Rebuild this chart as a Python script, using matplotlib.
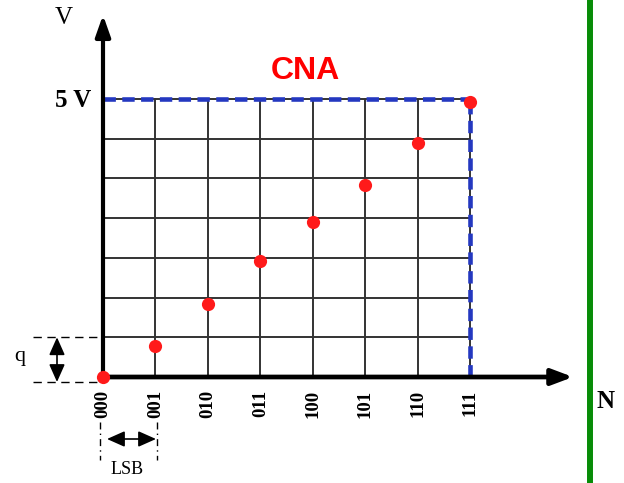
import matplotlib
matplotlib.use("Agg")
import matplotlib.pyplot as plt

# ---- data ----
codes = [0, 1, 2, 3, 4, 5, 6, 7]
code_labels = ["000", "001", "010", "011", "100", "101", "110", "111"]
v_full = 5.0
n_steps = 7
q = v_full / n_steps
out_volts = [0.0, 0.56, 1.31, 2.09, 2.78, 3.46, 4.21, 4.95]

# ---- figure ----
W, H, DPI = 624, 483, 100
fig = plt.figure(figsize=(W / DPI, H / DPI), dpi=DPI)
ax = fig.add_axes([0, 0, 1, 1])
ax.set_axis_off()

# pixel mapping helpers (layout only)
x0px, y0px = 103.0, 377.0
pxx = (470.0 - 103.0) / n_steps
pxy = (377.0 - 99.0) / v_full
ax.set_xlim(-x0px / pxx, (W - x0px) / pxx)
ax.set_ylim(-(H - y0px) / pxy, y0px / pxy)

def X(px):
    return (px - x0px) / pxx

def Y(py):
    return (y0px - py) / pxy

serif = ["Liberation Serif", "DejaVu Serif"]

# grid
grid_c = "#333333"
for k in range(1, n_steps + 1):
    ax.plot([0, codes[-1]], [k * q, k * q], color=grid_c, lw=1.4, zorder=1)
for c in codes[1:]:
    ax.plot([c, c], [0, v_full], color=grid_c, lw=1.4, zorder=1)

# blue dashed full scale
blue = "#2438c0"
ax.plot([0, codes[-1]], [v_full, v_full], color=blue, lw=3.3,
        dashes=(2.7, 1.4), zorder=2)
ax.plot([codes[-1], codes[-1]], [0, v_full], color=blue, lw=3.3,
        dashes=(2.7, 1.4), zorder=2)

# axes with arrows
ax.annotate("", xy=(0, Y(15)), xytext=(0, Y(380)),
            arrowprops=dict(arrowstyle="-|>,head_length=0.85,head_width=0.3",
                            mutation_scale=15, lw=3.0, color="black",
                            shrinkA=0, shrinkB=0), zorder=3)
ax.annotate("", xy=(X(573), 0), xytext=(X(101), 0),
            arrowprops=dict(arrowstyle="-|>,head_length=0.85,head_width=0.32",
                            mutation_scale=15, lw=3.4, color="black",
                            shrinkA=0, shrinkB=0), zorder=3)

# red points
ax.plot(codes, out_volts, "o", color="#ff1a1a", ms=9.5, mec="none", zorder=5)

# tick labels
for c, lab in zip(codes, code_labels):
    ax.text(c, Y(390), lab, rotation=90, ha="center", va="top",
            fontsize=13.5, fontweight="bold", family=serif)

# axis labels
ax.text(X(64), Y(18), "V", ha="center", va="center", fontsize=18, family=serif)
ax.text(X(91), Y(100), "5 V", ha="right", va="center", fontsize=18,
        fontweight="bold", family=serif)
ax.text(X(606), Y(401), "N", ha="center", va="center", fontsize=18,
        fontweight="bold", family=serif)

# title
ax.text(X(305), Y(71), "CNA", ha="center", va="center", fontsize=23,
        fontweight="bold", color="#ff0000",
        family=["Liberation Sans", "DejaVu Sans"])

# q annotation
for yv in (q, Y(382)):
    ax.plot([X(33), 0], [yv, yv], color="black", lw=1.0, dashes=(6, 4), zorder=2)
ax.annotate("", xy=(X(57), q), xytext=(X(57), Y(382)),
            arrowprops=dict(arrowstyle="<|-|>,head_length=0.9,head_width=0.4",
                            mutation_scale=12, lw=1.2, color="black",
                            shrinkA=0, shrinkB=0))
ax.text(X(20), Y(356), "q", ha="center", va="center", fontsize=16, family=serif)

# LSB annotation
for xv in (X(100), X(157)):
    ax.plot([xv, xv], [Y(422), Y(460)], color="black", lw=1.0,
            dashes=(5, 3, 1, 3), zorder=2)
ax.annotate("", xy=(X(156), Y(439)), xytext=(X(107), Y(439)),
            arrowprops=dict(arrowstyle="<|-|>,head_length=0.9,head_width=0.4",
                            mutation_scale=12, lw=1.2, color="black",
                            shrinkA=0, shrinkB=0))
ax.text(X(127), Y(470), "LSB", ha="center", va="center", fontsize=13, family=serif)

# green separator line
ax.axvline(X(589.5), color="#078c07", lw=4.3)

fig.savefig("out.png", dpi=DPI)
